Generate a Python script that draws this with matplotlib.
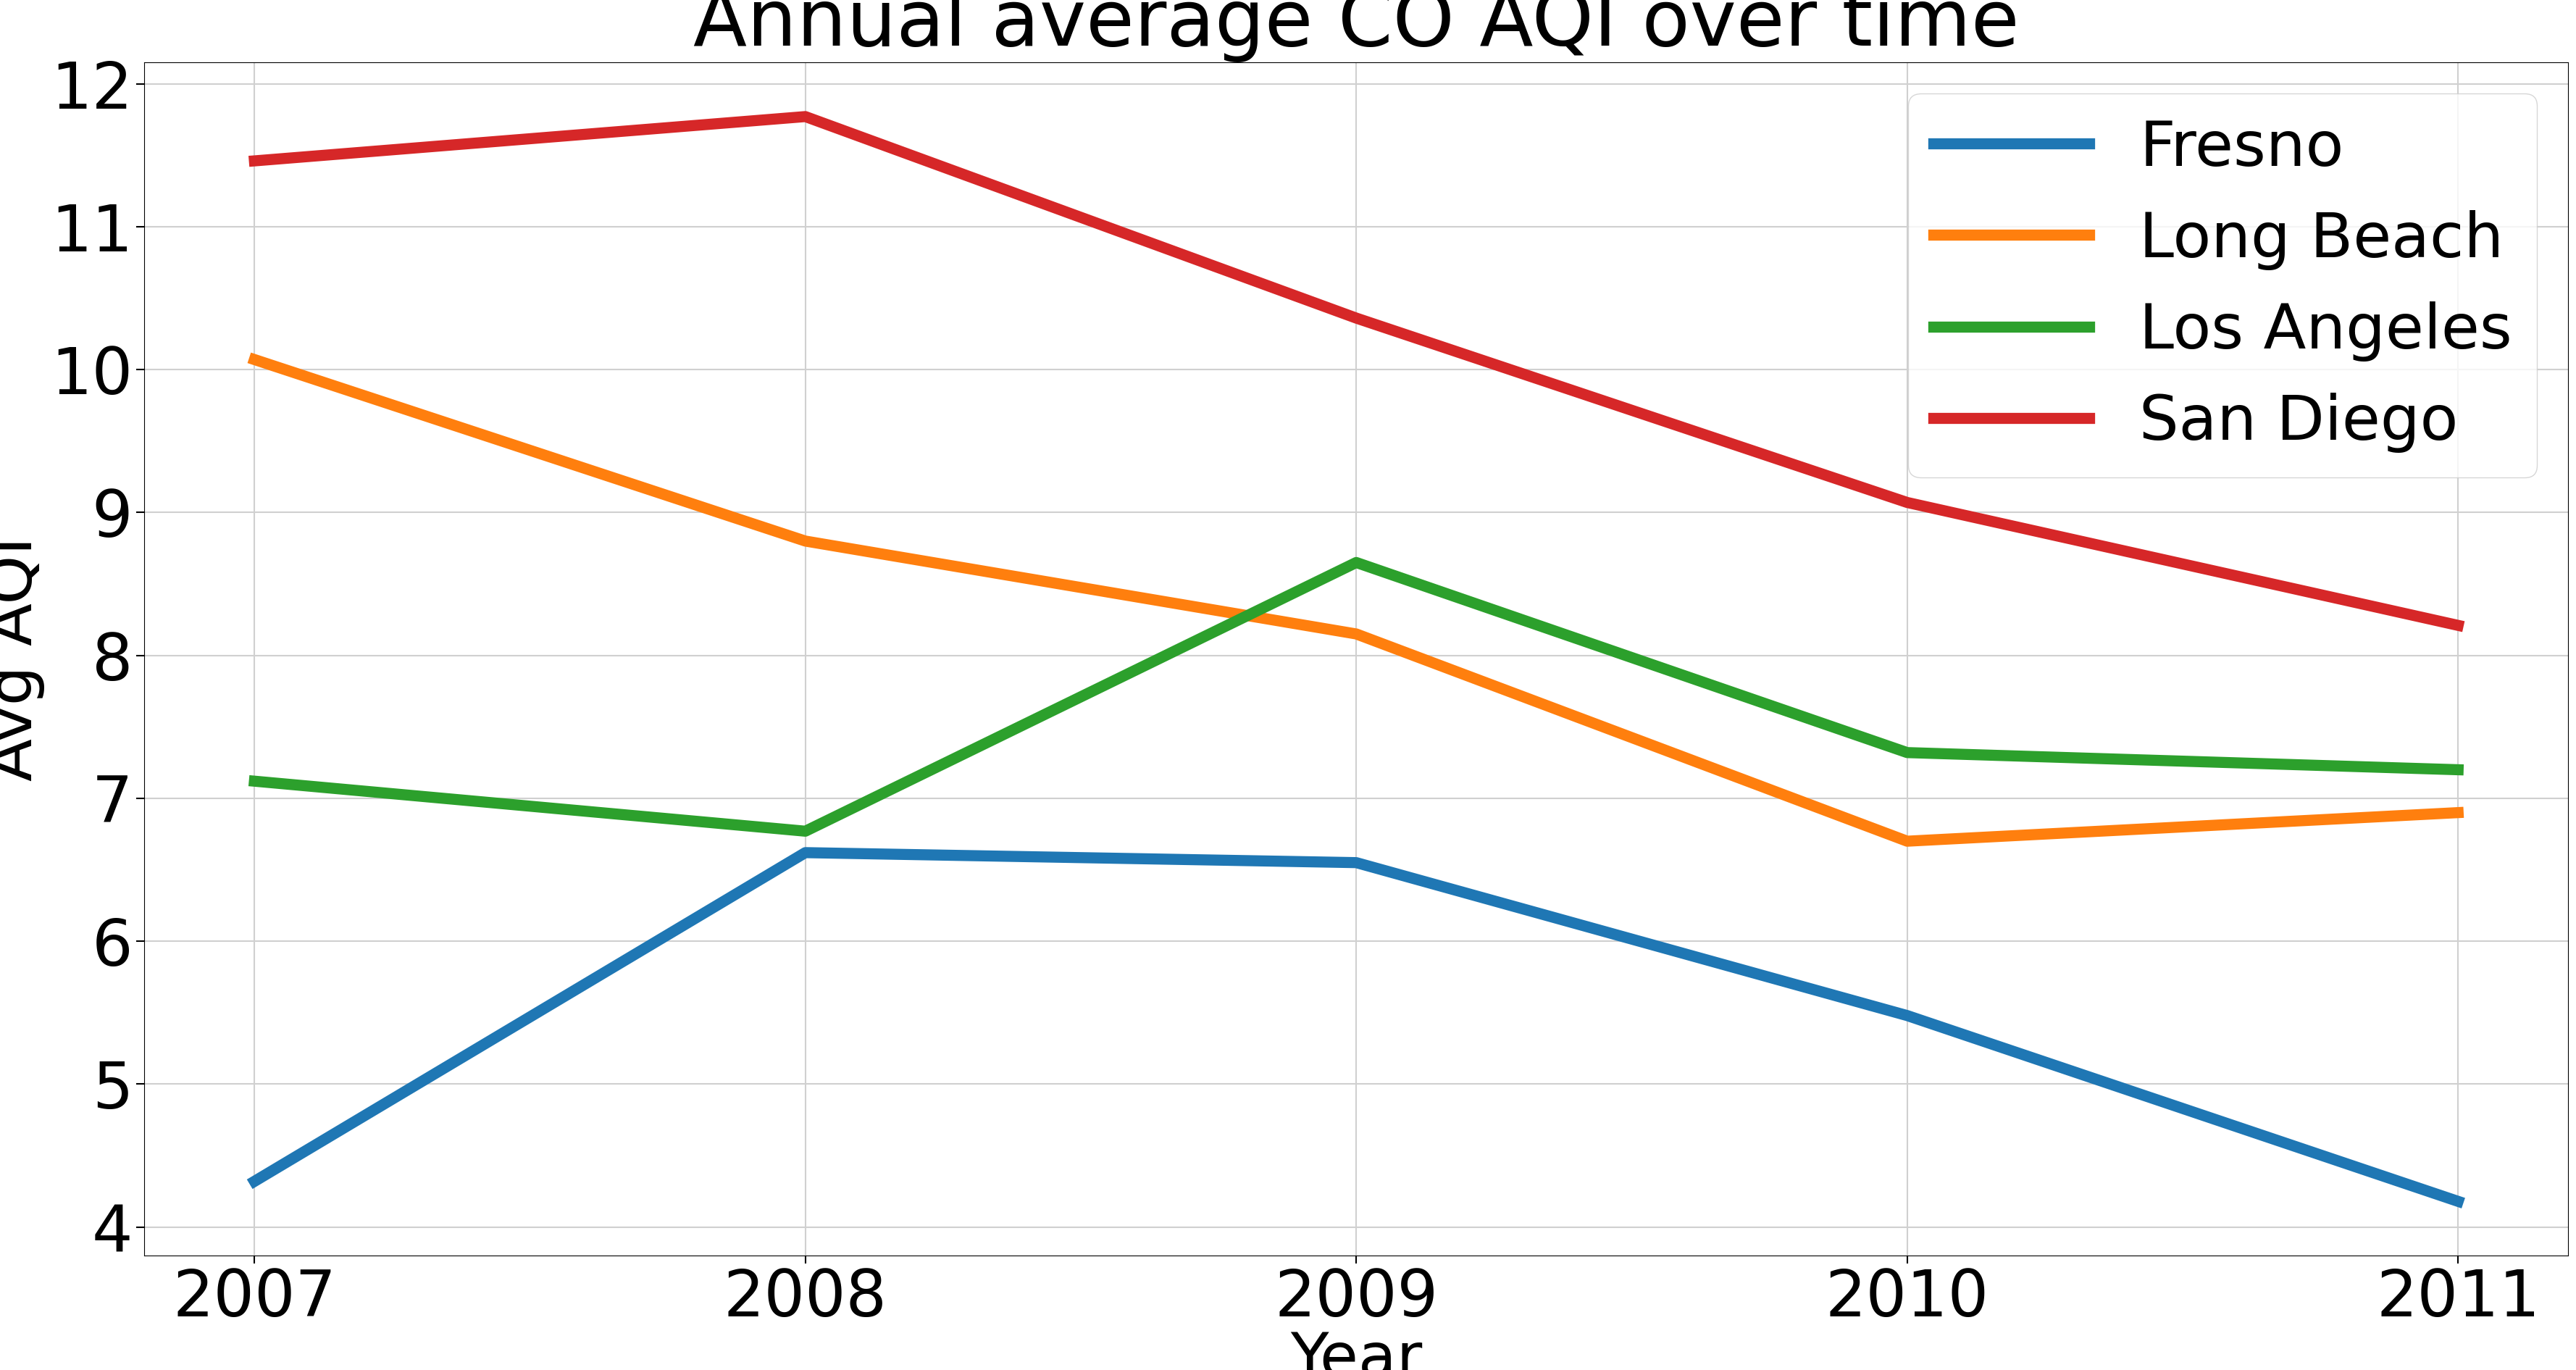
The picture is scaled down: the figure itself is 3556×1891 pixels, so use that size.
import matplotlib
matplotlib.use("Agg")
import matplotlib.pyplot as plt

years = [2007, 2008, 2009, 2010, 2011]
fresno = [4.32, 6.62, 6.55, 5.48, 4.18]
long_beach = [10.07, 8.80, 8.15, 6.70, 6.90]
los_angeles = [7.12, 6.77, 8.65, 7.32, 7.20]
san_diego = [11.46, 11.77, 10.36, 9.07, 8.21]
series = [("Fresno", fresno), ("Long Beach", long_beach), ("Los Angeles", los_angeles), ("San Diego", san_diego)]

fig = plt.figure(figsize=(35.56, 18.91), dpi=100)
ax = fig.add_axes([0.056, 0.0835, 0.941, 0.871])
for name, vals in series:
    ax.plot(years, vals, linewidth=11, label=name)
ax.set_xticks(years)
ax.set_yticks(range(4, 13))
ax.tick_params(labelsize=64, length=8, width=1.5)
ax.grid(True, color="#d0d0d0", linewidth=1.5)
ax.set_title("Annual average CO AQI over time", fontsize=78, pad=4)
ax.set_xlabel("Year", fontsize=62, labelpad=0)
ax.set_ylabel("Avg AQI", fontsize=62, labelpad=6)
ax.legend(fontsize=62, loc="upper right", handlelength=2.5)
fig.savefig("out.png", dpi=100)
